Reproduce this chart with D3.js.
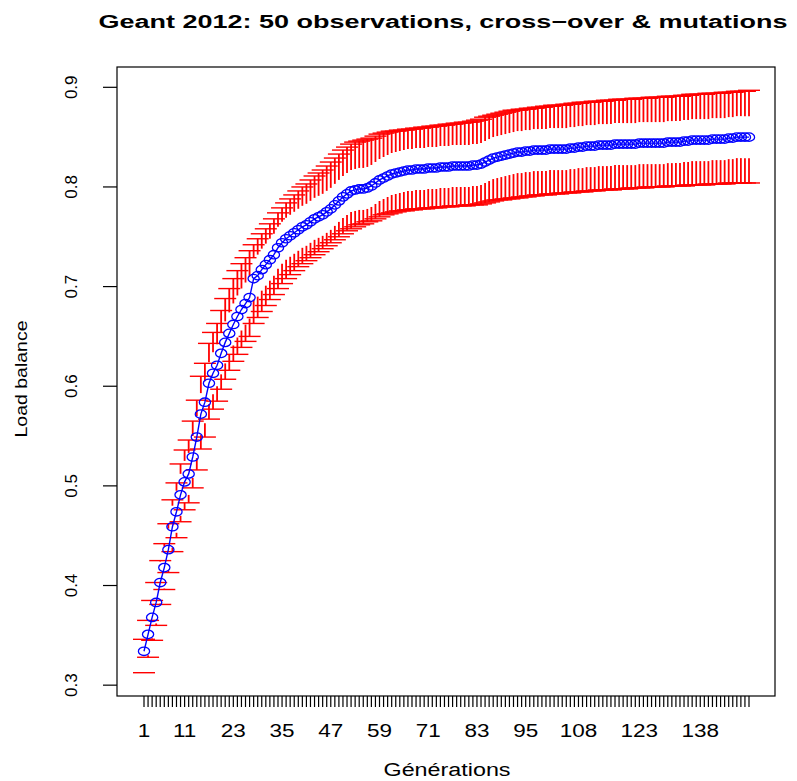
<!DOCTYPE html>
<html>
<head>
<meta charset="utf-8">
<script src="https://cdn.jsdelivr.net/npm/d3@7"></script>
<style>
html,body{margin:0;padding:0;background:#fff;}
svg{display:block;}
text{font-family:"Liberation Sans",Arial,Helvetica,sans-serif;fill:#000;}
</style>
</head>
<body>
<svg id="chart" width="797" height="781"></svg>
<script>
// ---- data ----
const titleText = "Geant 2012: 50 observations, cross\u2212over & mutations";
const xLabel = "Générations";
const yLabel = "Load balance";
const xTickLabels = [1, 11, 23, 35, 47, 59, 71, 83, 95, 108, 123, 138];
const yTicks = [0.3, 0.4, 0.5, 0.6, 0.7, 0.8, 0.9];

const meanValues = [
0.334,0.351,0.368,0.383,0.403,0.418,0.436,0.459,0.474,0.491,
0.504,0.512,0.529,0.549,0.572,0.584,0.603,0.613,0.621,0.633,
0.644,0.653,0.662,0.670,0.677,0.683,0.689,0.708,0.711,0.717,
0.722,0.727,0.732,0.739,0.744,0.748,0.751,0.754,0.757,0.760,
0.762,0.765,0.768,0.770,0.772,0.775,0.778,0.782,0.786,0.790,
0.793,0.796,0.797,0.798,0.798,0.799,0.801,0.804,0.807,0.809,
0.811,0.813,0.814,0.815,0.816,0.817,0.817,0.818,0.818,0.818,
0.819,0.819,0.819,0.820,0.820,0.820,0.821,0.821,0.821,0.821,
0.821,0.822,0.822,0.823,0.825,0.827,0.829,0.830,0.831,0.832,
0.833,0.834,0.835,0.835,0.836,0.836,0.837,0.837,0.837,0.837,
0.838,0.838,0.838,0.838,0.838,0.839,0.839,0.840,0.840,0.841,
0.841,0.841,0.842,0.842,0.842,0.842,0.843,0.843,0.843,0.843,
0.843,0.843,0.844,0.844,0.844,0.844,0.844,0.844,0.844,0.845,
0.845,0.845,0.845,0.846,0.846,0.847,0.847,0.847,0.847,0.847,
0.848,0.848,0.848,0.848,0.849,0.849,0.850,0.850,0.850,0.850];

const upperValues = [
0.346,0.365,0.385,0.403,0.425,0.442,0.462,0.486,0.503,0.522,
0.536,0.546,0.565,0.586,0.610,0.623,0.643,0.654,0.663,0.676,
0.688,0.698,0.708,0.716,0.723,0.729,0.736,0.742,0.748,0.753,
0.758,0.763,0.768,0.774,0.779,0.784,0.788,0.792,0.796,0.800,
0.803,0.807,0.811,0.814,0.817,0.821,0.825,0.829,0.833,0.837,
0.840,0.843,0.845,0.846,0.847,0.848,0.849,0.851,0.853,0.854,
0.855,0.856,0.856,0.857,0.857,0.858,0.858,0.859,0.859,0.860,
0.860,0.861,0.861,0.862,0.862,0.863,0.863,0.864,0.864,0.865,
0.865,0.866,0.867,0.868,0.870,0.871,0.872,0.873,0.874,0.875,
0.876,0.877,0.877,0.878,0.878,0.879,0.879,0.880,0.880,0.881,
0.881,0.882,0.882,0.882,0.883,0.883,0.884,0.884,0.885,0.885,
0.885,0.886,0.886,0.886,0.887,0.887,0.887,0.888,0.888,0.888,
0.888,0.889,0.889,0.889,0.889,0.890,0.890,0.890,0.890,0.891,
0.891,0.891,0.891,0.892,0.892,0.893,0.893,0.893,0.893,0.894,
0.894,0.894,0.894,0.895,0.895,0.895,0.896,0.896,0.896,0.897];

const lowerValues = [
0.3125,0.328,0.345,0.360,0.381,0.396,0.413,0.434,0.448,0.464,
0.476,0.483,0.498,0.516,0.537,0.549,0.567,0.577,0.585,0.597,
0.607,0.616,0.625,0.632,0.639,0.645,0.650,0.663,0.669,0.675,
0.681,0.687,0.692,0.698,0.703,0.708,0.712,0.716,0.720,0.723,
0.726,0.729,0.732,0.735,0.738,0.741,0.744,0.747,0.750,0.753,
0.756,0.758,0.760,0.762,0.763,0.765,0.766,0.768,0.770,0.772,
0.773,0.774,0.775,0.776,0.776,0.777,0.777,0.778,0.778,0.778,
0.779,0.779,0.779,0.780,0.780,0.780,0.781,0.781,0.781,0.781,
0.782,0.782,0.782,0.783,0.784,0.785,0.786,0.787,0.787,0.788,
0.788,0.789,0.789,0.790,0.790,0.791,0.791,0.792,0.792,0.792,
0.793,0.793,0.793,0.794,0.794,0.794,0.795,0.795,0.795,0.796,
0.796,0.796,0.797,0.797,0.797,0.797,0.798,0.798,0.798,0.798,
0.799,0.799,0.799,0.799,0.800,0.800,0.800,0.800,0.800,0.801,
0.801,0.801,0.801,0.801,0.802,0.802,0.802,0.802,0.802,0.803,
0.803,0.803,0.803,0.803,0.804,0.804,0.804,0.804,0.804,0.804];

const generations = d3.range(1, meanValues.length + 1);

// ---- layout ----
const box = {left: 117, right: 775, top: 67, bottom: 696};
const svg = d3.select("#chart");

const x = d3.scaleLinear().domain([1, generations.length]).range([144, 749]);
const yMin = d3.min(lowerValues), yMax = d3.max(upperValues);
const pad = (yMax - yMin) * 0.04;
const y = d3.scaleLinear().domain([yMin - pad, yMax + pad]).range([box.bottom, box.top]);

const data = generations.map((g, i) => ({g, m: meanValues[i], u: upperValues[i], l: lowerValues[i]}));

// ---- error bars ----
const gapPx = 21, capHalf = 11;
const eb = svg.append("g").attr("stroke", "#ff0000").attr("stroke-width", 1.4).attr("fill", "none");
data.forEach(d => {
  const cx = x(d.g), ym = y(d.m), yu = y(d.u), yl = y(d.l);
  const uEnd = Math.max(yu, ym - gapPx);
  eb.append("line").attr("x1", cx).attr("x2", cx).attr("y1", yu).attr("y2", uEnd).attr("stroke-width", 1.8);
  const lEnd = Math.min(yl, ym + gapPx);
  eb.append("line").attr("x1", cx).attr("x2", cx).attr("y1", yl).attr("y2", lEnd).attr("stroke-width", 1.8);
  eb.append("line").attr("x1", cx - capHalf).attr("x2", cx + capHalf).attr("y1", yu).attr("y2", yu);
  eb.append("line").attr("x1", cx - capHalf).attr("x2", cx + capHalf).attr("y1", yl).attr("y2", yl);
});

// ---- mean line and points ----
svg.append("path").datum(data)
  .attr("d", d3.line().x(d => x(d.g)).y(d => y(d.m)))
  .attr("fill", "none").attr("stroke", "#0000ff").attr("stroke-width", 1.4);
svg.append("g").selectAll("ellipse").data(data).join("ellipse")
  .attr("cx", d => x(d.g)).attr("cy", d => y(d.m))
  .attr("rx", 5.6).attr("ry", 4.2)
  .attr("fill", "none").attr("stroke", "#0000ff").attr("stroke-width", 1.3);

// ---- box ----
svg.append("rect").attr("x", box.left).attr("y", box.top)
  .attr("width", box.right - box.left).attr("height", box.bottom - box.top)
  .attr("fill", "none").attr("stroke", "#000").attr("stroke-width", 1.2);

// ---- x axis ----
const xa = svg.append("g");
xa.selectAll("line").data(generations).join("line")
  .attr("x1", d => x(d)).attr("x2", d => x(d))
  .attr("y1", box.bottom).attr("y2", box.bottom + 11)
  .attr("stroke", "#000").attr("stroke-width", 1.2);
xa.selectAll("text").data(xTickLabels).join("text")
  .attr("transform", d => `translate(${x(d)},737) scale(1.25,1)`)
  .attr("text-anchor", "middle").attr("font-size", 18).text(d => d);

// ---- y axis ----
const ya = svg.append("g");
ya.selectAll("line").data(yTicks).join("line")
  .attr("x1", box.left - 14).attr("x2", box.left)
  .attr("y1", d => y(d)).attr("y2", d => y(d))
  .attr("stroke", "#000").attr("stroke-width", 1.2);
ya.selectAll("text").data(yTicks).join("text")
  .attr("transform", d => `translate(77,${y(d)}) rotate(-90)`)
  .attr("text-anchor", "middle").attr("font-size", 17).text(d => d3.format(".1f")(d));

// ---- labels ----
svg.append("text").attr("x", 443).attr("y", 28).attr("text-anchor", "middle")
  .attr("font-size", 18).attr("font-weight", "bold")
  .attr("textLength", 689).attr("lengthAdjust", "spacingAndGlyphs").text(titleText);
svg.append("text").attr("x", 447).attr("y", 776).attr("text-anchor", "middle")
  .attr("font-size", 18).attr("textLength", 127).attr("lengthAdjust", "spacingAndGlyphs").text(xLabel);
svg.append("text").attr("transform", `translate(27,379) rotate(-90)`).attr("text-anchor", "middle")
  .attr("font-size", 17).attr("textLength", 117).attr("lengthAdjust", "spacingAndGlyphs").text(yLabel);
</script>
</body>
</html>
